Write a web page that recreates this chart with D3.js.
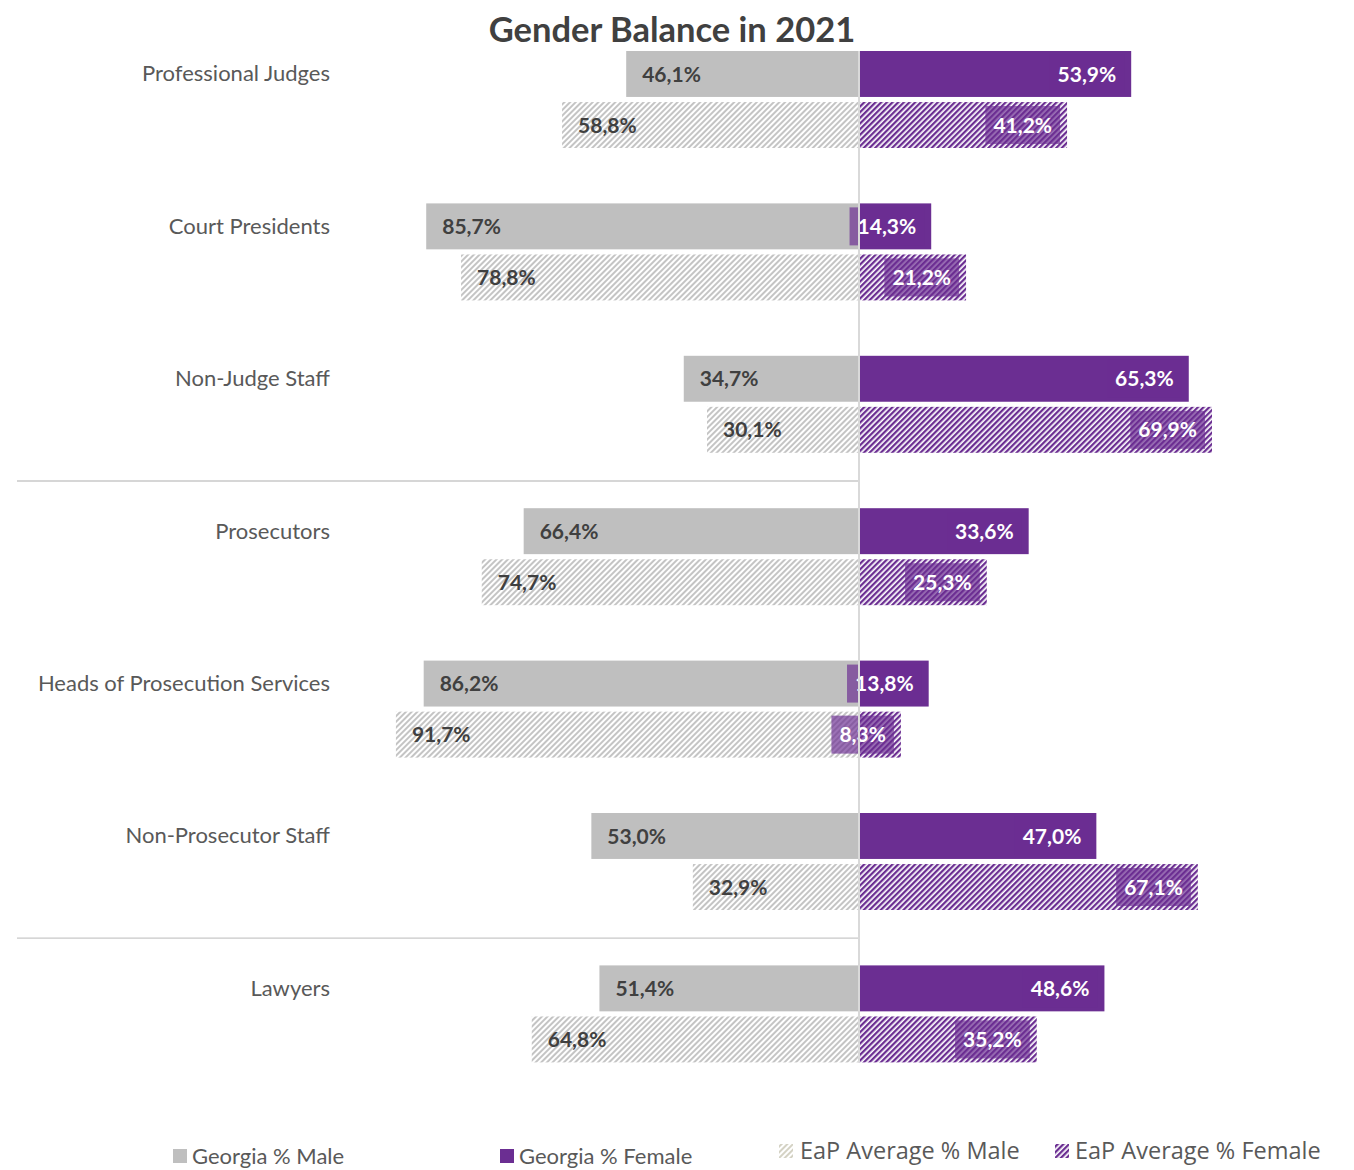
<!DOCTYPE html>
<html>
<head>
<meta charset="utf-8">
<script src="https://cdn.jsdelivr.net/npm/d3@7/dist/d3.min.js"></script>
<style>
  html, body { margin: 0; padding: 0; background: #ffffff; }
  svg { display: block; }
</style>
</head>
<body>
<svg id="chart" width="1354" height="1170"></svg>
<script>
// Categories (top to bottom) and shares in percent
const categories = [
  "Professional Judges",
  "Court Presidents",
  "Non-Judge Staff",
  "Prosecutors",
  "Heads of Prosecution Services",
  "Non-Prosecutor Staff",
  "Lawyers"
];
const georgiaMale   = [46.1, 85.7, 34.7, 66.4, 86.2, 53.0, 51.4];
const georgiaFemale = [53.9, 14.3, 65.3, 33.6, 13.8, 47.0, 48.6];
const eapMale       = [58.8, 78.8, 30.1, 74.7, 91.7, 32.9, 64.8];
const eapFemale     = [41.2, 21.2, 69.9, 25.3,  8.3, 67.1, 35.2];

const seriesKeys = ["georgia", "eap"];
const legendLabels = ["Georgia % Male", "Georgia % Female", "EaP Average % Male", "EaP Average % Female"];
// group separators sit before these categories
const groupStarts = ["Prosecutors", "Lawyers"];

const svg = d3.select("#chart");
const GRAY = "#bfbfbf";
const PURPLE = "#6b2e92";

// hatch patterns
const defs = svg.append("defs");
function hatch(id, color, w) {
  const p = defs.append("pattern")
    .attr("id", id)
    .attr("patternUnits", "userSpaceOnUse")
    .attr("width", 4).attr("height", 4)
    .attr("patternTransform", "rotate(45)");
  p.append("rect").attr("width", 4).attr("height", 4).attr("fill", "#ffffff");
  p.append("rect").attr("x", 0).attr("y", 0).attr("width", w).attr("height", 4).attr("fill", color);
}
hatch("hatchGray", "#c4c4c4", 2);
hatch("hatchPurple", PURPLE, 2.3);
hatch("hatchLegendGray", "#d4d2c4", 2);

// scales
const x = d3.scaleLinear().domain([-100, 100]).range([354, 1364]);
const y = d3.scaleBand().domain(categories).range([23.3, 1090.1]).padding(0);
const inner = d3.scaleBand().domain(seriesKeys).range([-48.5, 48.5]).paddingInner(0.1);

const fmt = v => d3.format(".1f")(v).replace(".", ",") + "%";

const rows = categories.map((c, i) => ({
  cat: c,
  georgia: { male: georgiaMale[i], female: georgiaFemale[i] },
  eap: { male: eapMale[i], female: eapFemale[i] }
}));

// title
svg.append("text")
  .attr("x", 672).attr("y", 42)
  .attr("text-anchor", "middle")
  .attr("font-family", "Lato, sans-serif")
  .attr("font-weight", 700)
  .attr("font-size", 34.5)
  .attr("fill", "#404040")
  .text("Gender Balance in 2021");

// group separators
svg.append("g").selectAll("line")
  .data(groupStarts)
  .join("line")
  .attr("x1", 17).attr("x2", x(0))
  .attr("y1", d => y(d) + 0.5).attr("y2", d => y(d) + 0.5)
  .attr("stroke", "#c8c8c8").attr("stroke-width", 1.3);

// bars
const rowG = svg.append("g").selectAll("g.row")
  .data(rows)
  .join("g")
  .attr("class", "row")
  .attr("transform", d => `translate(0,${y(d.cat) + y.bandwidth() / 2})`);

const barData = d => seriesKeys.map(k => ({ key: k, male: d[k].male, female: d[k].female }));

rowG.selectAll("rect.male")
  .data(barData)
  .join("rect")
  .attr("class", "male")
  .attr("x", d => x(-d.male))
  .attr("width", d => x(0) - x(-d.male))
  .attr("y", d => inner(d.key))
  .attr("height", inner.bandwidth())
  .attr("fill", d => d.key === "georgia" ? GRAY : "url(#hatchGray)");

rowG.selectAll("rect.female")
  .data(barData)
  .join("rect")
  .attr("class", "female")
  .attr("x", x(0))
  .attr("width", d => x(d.female) - x(0))
  .attr("y", d => inner(d.key))
  .attr("height", inner.bandwidth())
  .attr("fill", d => d.key === "georgia" ? PURPLE : "url(#hatchPurple)");

// center axis
svg.append("line")
  .attr("x1", x(0)).attr("x2", x(0))
  .attr("y1", y(categories[0]) + y.bandwidth() / 2 + inner("georgia"))
  .attr("y2", y(categories[categories.length - 1]) + y.bandwidth() / 2 + inner("eap") + inner.bandwidth())
  .attr("stroke", "#d9d9d9").attr("stroke-width", 2);

// male value labels
rowG.selectAll("text.maleLbl")
  .data(barData)
  .join("text")
  .attr("class", "maleLbl")
  .attr("x", d => x(-d.male) + 16)
  .attr("y", d => inner(d.key) + inner.bandwidth() / 2)
  .attr("dy", "0.36em")
  .attr("font-family", "Lato, sans-serif")
  .attr("font-weight", 700)
  .attr("font-size", 21)
  .attr("fill", "#404040")
  .text(d => fmt(d.male));

// female value labels with translucent boxes
const fLbl = rowG.selectAll("g.femaleLbl")
  .data(barData)
  .join("g")
  .attr("class", "femaleLbl");

fLbl.each(function (d) {
  const g = d3.select(this);
  const cy = inner(d.key) + inner.bandwidth() / 2;
  const boxRight = x(d.female) - 7;
  const t = g.append("text")
    .attr("x", boxRight - 8)
    .attr("y", cy)
    .attr("dy", "0.36em")
    .attr("text-anchor", "end")
    .attr("font-family", "Lato, sans-serif")
    .attr("font-weight", 700)
    .attr("font-size", 21)
    .attr("fill", "#ffffff")
    .text(fmt(d.female));
  const w = t.node().getComputedTextLength();
  g.insert("rect", "text")
    .attr("x", boxRight - 8 - w - 8)
    .attr("width", w + 16)
    .attr("y", cy - 19)
    .attr("height", 38)
    .attr("fill", PURPLE)
    .attr("fill-opacity", 0.68);
});

// category labels
rowG.append("text")
  .attr("x", 330)
  .attr("y", inner("georgia") + inner.bandwidth() / 2)
  .attr("dy", "0.34em")
  .attr("text-anchor", "end")
  .attr("font-family", "Lato, sans-serif")
  .attr("font-size", 22)
  .attr("fill", "#595959")
  .text(d => d.cat);

// legend
const legendItems = [
  { label: legendLabels[0], fill: GRAY, x: 173, y: 1156, font: "Lato, sans-serif", size: 22, gap: 19 },
  { label: legendLabels[1], fill: PURPLE, x: 500, y: 1156, font: "Lato, sans-serif", size: 22, gap: 19 },
  { label: legendLabels[2], fill: "url(#hatchLegendGray)", x: 779, y: 1151, font: "'Open Sans', sans-serif", size: 23.5, gap: 21 },
  { label: legendLabels[3], fill: "url(#hatchPurple)", x: 1055, y: 1151, font: "'Open Sans', sans-serif", size: 23.5, gap: 20 }
];
const lg = svg.append("g").selectAll("g")
  .data(legendItems)
  .join("g")
  .attr("transform", d => `translate(${d.x},${d.y})`);
lg.append("rect")
  .attr("x", 0).attr("y", -7).attr("width", 14).attr("height", 14)
  .attr("fill", d => d.fill);
lg.append("text")
  .attr("x", d => d.gap)
  .attr("y", 0)
  .attr("dy", "0.35em")
  .attr("font-family", d => d.font)
  .attr("font-size", d => d.size)
  .attr("fill", "#595959")
  .text(d => d.label);
</script>
</body>
</html>
